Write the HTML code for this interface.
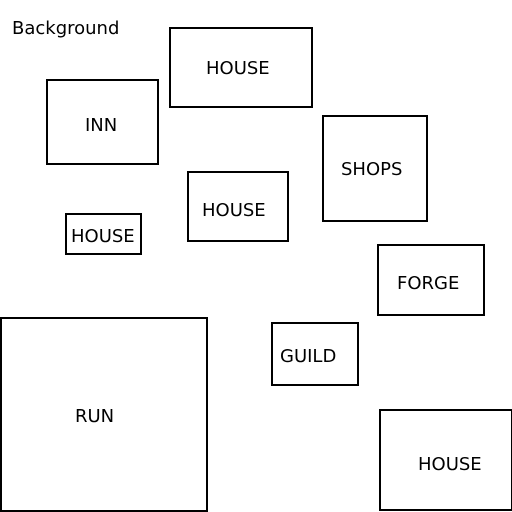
<!DOCTYPE html>
<html><head><style>
body{margin:0;width:512px;height:512px;background:#fff;position:relative;overflow:hidden;font-family:"DejaVu Sans","Liberation Sans",sans-serif;font-size:18px;color:#000}
.b{position:absolute;border:2px solid #000;box-sizing:border-box}
.t{position:absolute;line-height:16px;white-space:nowrap}
</style></head><body>
<div class="t" style="left:12px;top:21px">Background</div>
<div class="b" style="left:169px;top:27px;width:144px;height:81px"></div>
<div class="t" style="left:206px;top:61px">HOUSE</div>
<div class="b" style="left:46px;top:79px;width:113px;height:86px"></div>
<div class="t" style="left:85px;top:118px">INN</div>
<div class="b" style="left:322px;top:115px;width:106px;height:107px"></div>
<div class="t" style="left:341px;top:162px">SHOPS</div>
<div class="b" style="left:187px;top:171px;width:102px;height:71px"></div>
<div class="t" style="left:202px;top:203px">HOUSE</div>
<div class="b" style="left:65px;top:213px;width:77px;height:42px"></div>
<div class="t" style="left:71px;top:229px">HOUSE</div>
<div class="b" style="left:377px;top:244px;width:108px;height:72px"></div>
<div class="t" style="left:397px;top:276px">FORGE</div>
<div class="b" style="left:0px;top:317px;width:208px;height:195px"></div>
<div class="t" style="left:75px;top:409px">RUN</div>
<div class="b" style="left:271px;top:322px;width:88px;height:64px"></div>
<div class="t" style="left:280px;top:349px">GUILD</div>
<div class="b" style="left:379px;top:409px;width:134px;height:102px"></div>
<div class="t" style="left:418px;top:457px">HOUSE</div>
</body></html>
